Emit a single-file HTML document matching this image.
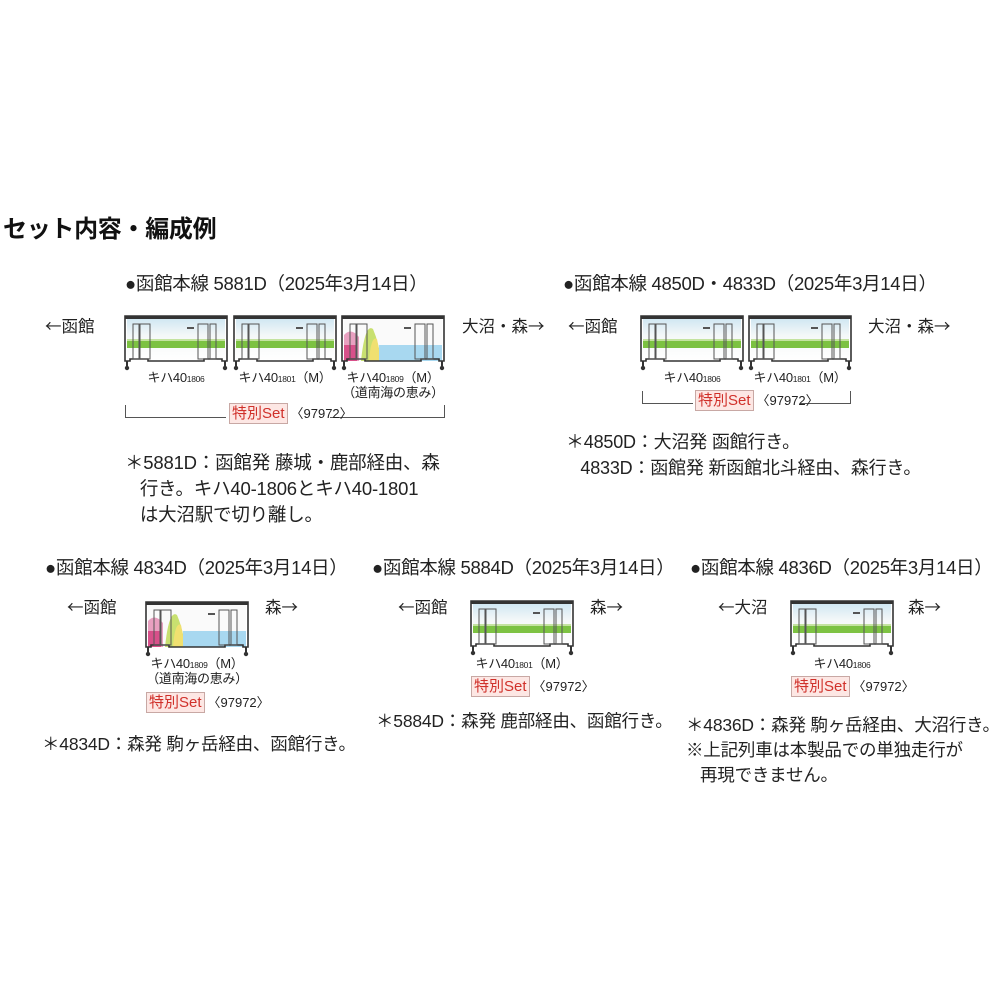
<!DOCTYPE html>
<html><head><meta charset="utf-8"><style>
html,body{margin:0;padding:0;background:#fff;}
body{width:1000px;height:1000px;position:relative;overflow:hidden;font-family:"Liberation Sans","Noto Sans CJK JP",sans-serif;color:#222;}
.t{position:absolute;white-space:nowrap;line-height:1;}
.h{font-size:18.5px;letter-spacing:-0.3px;}
.n{font-size:17.5px;letter-spacing:-0.2px;}
.d{font-size:16.5px;font-family:"Noto Sans CJK JP",sans-serif;}
.l{font-size:13px;letter-spacing:-0.3px;text-align:center;}
.l small{font-size:8.5px;}
.s{font-size:13px;}
.s b{font-weight:normal;color:#d0302a;background:#fde7e4;border:1px solid #c8a8a4;padding:1px 2px;font-size:15px;margin-right:3px;}
svg.c{position:absolute;}
.br{position:absolute;border-bottom:1px solid #555;height:12px;}
</style></head><body>
<svg width="0" height="0" style="position:absolute">
<defs>
<linearGradient id="g" x1="0" y1="0" x2="0" y2="1"><stop offset="0" stop-color="#cfe6f2"/><stop offset="0.4" stop-color="#f4f8f8"/><stop offset="1" stop-color="#ffffff"/></linearGradient>
<symbol id="car" viewBox="0 0 104 56">
<rect x="3" y="3" width="98" height="43" fill="url(#g)"/>
<rect x="3" y="26" width="98" height="7" fill="#7cc242"/>
<rect x="3" y="24" width="98" height="2" fill="#c4e3a0"/>
<path d="M1 1H103V46H98V44H80V46H24V44H6V46H1Z" fill="none" stroke="#333" stroke-width="1.6"/>
<rect x="1" y="1" width="102" height="3" fill="#333"/>
<rect x="9" y="9" width="6" height="35" fill="none" stroke="#555" stroke-width="1"/>
<rect x="16" y="9" width="10" height="35" fill="none" stroke="#555" stroke-width="1"/>
<rect x="74" y="9" width="10" height="35" fill="none" stroke="#555" stroke-width="1"/>
<rect x="86" y="9" width="6" height="35" fill="none" stroke="#555" stroke-width="1"/>
<rect x="63" y="12" width="7" height="2" fill="#555"/>
<rect x="2" y="46" width="2" height="6" fill="#333"/><rect x="100" y="46" width="2" height="6" fill="#333"/>
<circle cx="3" cy="53" r="2.2" fill="#333"/><circle cx="101" cy="53" r="2.2" fill="#333"/>
</symbol>
<symbol id="car2" viewBox="0 0 104 56">
<rect x="3" y="3" width="98" height="43" fill="#fafafa"/>
<path d="M3 20 Q10 12 18 22 L18 46 H3Z" fill="#e8a0c0"/>
<path d="M3 30 H16 V46 H3Z" fill="#d8508a"/>
<path d="M20 46 Q24 8 32 14 Q38 28 40 46Z" fill="#c8e070"/>
<path d="M28 46 Q30 20 36 24 L40 46Z" fill="#f0e070"/>
<path d="M38 30 H101 V46 H38Z" fill="#a8d8f0"/>
<path d="M1 1H103V46H98V44H80V46H24V44H6V46H1Z" fill="none" stroke="#333" stroke-width="1.6"/>
<rect x="1" y="1" width="102" height="3" fill="#333"/>
<rect x="9" y="9" width="6" height="35" fill="none" stroke="#555" stroke-width="1"/>
<rect x="16" y="9" width="10" height="35" fill="none" stroke="#555" stroke-width="1"/>
<rect x="74" y="9" width="10" height="35" fill="none" stroke="#555" stroke-width="1"/>
<rect x="86" y="9" width="6" height="35" fill="none" stroke="#555" stroke-width="1"/>
<rect x="63" y="12" width="7" height="2" fill="#555"/>
<rect x="2" y="46" width="2" height="6" fill="#333"/><rect x="100" y="46" width="2" height="6" fill="#333"/>
<circle cx="3" cy="53" r="2.2" fill="#333"/><circle cx="101" cy="53" r="2.2" fill="#333"/>
</symbol>
</defs></svg>

<div class="t" style="left:3px;top:218px;font-size:24px;font-weight:bold;color:#111;letter-spacing:-0.3px;">セット内容・編成例</div>

<!-- Set 1 -->
<div class="t h" style="left:125px;top:275px;">●函館本線 5881D（2025年3月14日）</div>
<div class="t d" style="left:45px;top:317px;">←函館</div>
<div class="t d" style="left:462px;top:317px;">大沼・森→</div>
<svg class="c" style="left:124px;top:315px" width="104" height="56"><use href="#car"/></svg>
<svg class="c" style="left:233px;top:315px" width="104" height="56"><use href="#car"/></svg>
<svg class="c" style="left:341px;top:315px" width="104" height="56"><use href="#car2"/></svg>
<div class="t l" style="left:124px;top:371px;width:104px;">キハ40<small>1806</small></div>
<div class="t l" style="left:233px;top:371px;width:104px;">キハ40<small>1801</small>（M）</div>
<div class="t l" style="left:331px;top:371px;width:124px;">キハ40<small>1809</small>（M）<br><span style="line-height:18px">（道南海の恵み）</span></div>
<div class="br" style="left:125px;top:405px;width:100px;border-left:1px solid #555;"></div>
<div class="br" style="left:330px;top:405px;width:114px;border-right:1px solid #555;"></div>
<div class="t s" style="left:229px;top:406px;"><b>特別Set</b>〈97972〉</div>
<div class="t n" style="left:125px;top:450px;line-height:26px;font-size:18.5px;">＊5881D：函館発 藤城・鹿部経由、森<br>&nbsp;&nbsp;&nbsp;行き。キハ40-1806とキハ40-1801<br>&nbsp;&nbsp;&nbsp;は大沼駅で切り離し。</div>

<!-- Set 2 -->
<div class="t h" style="left:563px;top:275px;">●函館本線 4850D・4833D（2025年3月14日）</div>
<div class="t d" style="left:568px;top:317px;">←函館</div>
<div class="t d" style="left:868px;top:317px;">大沼・森→</div>
<svg class="c" style="left:640px;top:315px" width="104" height="56"><use href="#car"/></svg>
<svg class="c" style="left:748px;top:315px" width="104" height="56"><use href="#car"/></svg>
<div class="t l" style="left:640px;top:371px;width:104px;">キハ40<small>1806</small></div>
<div class="t l" style="left:748px;top:371px;width:104px;">キハ40<small>1801</small>（M）</div>
<div class="br" style="left:642px;top:391px;width:50px;border-left:1px solid #555;"></div>
<div class="br" style="left:800px;top:391px;width:50px;border-right:1px solid #555;"></div>
<div class="t s" style="left:695px;top:393px;"><b>特別Set</b>〈97972〉</div>
<div class="t n" style="left:566px;top:429px;line-height:26px;font-size:18px;">＊4850D：大沼発 函館行き。<br>&nbsp;&nbsp;&nbsp;4833D：函館発 新函館北斗経由、森行き。</div>

<!-- Set 3 -->
<div class="t h" style="left:45px;top:559px;">●函館本線 4834D（2025年3月14日）</div>
<div class="t d" style="left:67px;top:598px;">←函館</div>
<div class="t d" style="left:265px;top:598px;">森→</div>
<svg class="c" style="left:145px;top:601px" width="104" height="56"><use href="#car2"/></svg>
<div class="t l" style="left:135px;top:657px;width:124px;">キハ40<small>1809</small>（M）<br><span style="line-height:18px">（道南海の恵み）</span></div>
<div class="t s" style="left:146px;top:695px;"><b>特別Set</b>〈97972〉</div>
<div class="t n" style="left:42px;top:736px;">＊4834D：森発 駒ヶ岳経由、函館行き。</div>

<!-- Set 4 -->
<div class="t h" style="left:372px;top:559px;">●函館本線 5884D（2025年3月14日）</div>
<div class="t d" style="left:398px;top:598px;">←函館</div>
<div class="t d" style="left:590px;top:598px;">森→</div>
<svg class="c" style="left:470px;top:600px" width="104" height="56"><use href="#car"/></svg>
<div class="t l" style="left:470px;top:657px;width:104px;">キハ40<small>1801</small>（M）</div>
<div class="t s" style="left:471px;top:679px;"><b>特別Set</b>〈97972〉</div>
<div class="t n" style="left:376px;top:713px;">＊5884D：森発 鹿部経由、函館行き。</div>

<!-- Set 5 -->
<div class="t h" style="left:690px;top:559px;">●函館本線 4836D（2025年3月14日）</div>
<div class="t d" style="left:718px;top:598px;">←大沼</div>
<div class="t d" style="left:908px;top:598px;">森→</div>
<svg class="c" style="left:790px;top:600px" width="104" height="56"><use href="#car"/></svg>
<div class="t l" style="left:790px;top:657px;width:104px;">キハ40<small>1806</small></div>
<div class="t s" style="left:791px;top:679px;"><b>特別Set</b>〈97972〉</div>
<div class="t n" style="left:686px;top:713px;line-height:25px;">＊4836D：森発 駒ヶ岳経由、大沼行き。<br>※上記列車は本製品での単独走行が<br>&nbsp;&nbsp;&nbsp;再現できません。</div>
</body></html>
